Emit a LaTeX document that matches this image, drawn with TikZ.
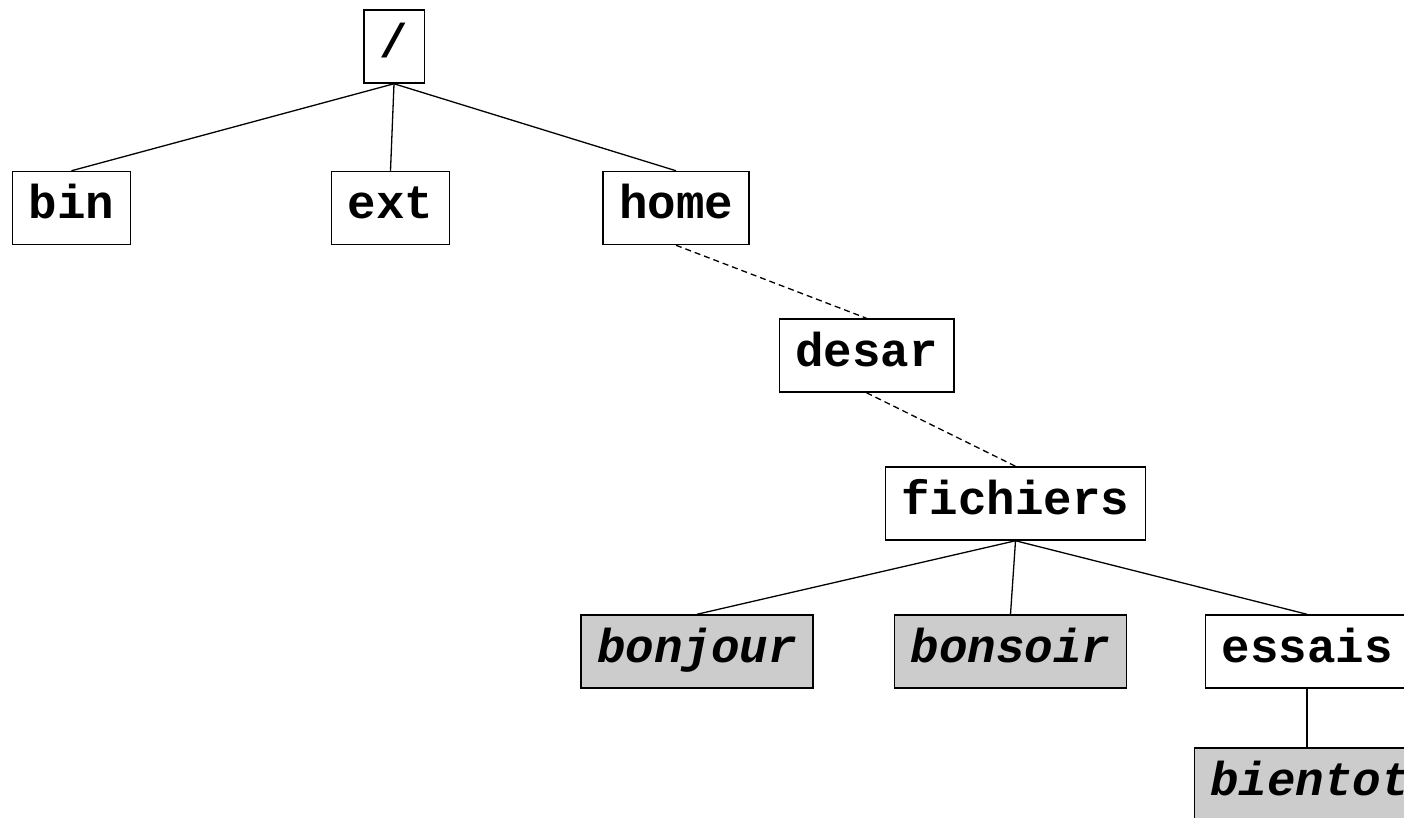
\documentclass[tikz,border=0pt]{standalone}
\usepackage{fontspec}
\setmonofont{Liberation Mono}
\begin{document}
\begin{tikzpicture}[x=1pt,y=-1pt,
  dirbox/.style={draw, line width=1.5pt, fill=white, font=\fontsize{47.5}{50}\selectfont\ttfamily\bfseries,
    inner xsep=16pt, inner ysep=17pt, text height=30pt, text depth=9pt},
  filebox/.style={dirbox, fill=filegray, font=\fontsize{47.5}{50}\selectfont\ttfamily\bfseries\itshape},
  link/.style={line width=1.3pt},
  dlink/.style={line width=1.3pt, dash pattern=on 6pt off 4pt}]
\definecolor{filegray}{RGB}{204,204,204}
\useasboundingbox (0,0) rectangle (1404,817);
\clip (0,0) rectangle (1404,817);
\node[dirbox] (root) at (394,46.5) {/};
\node[dirbox] (bin) at (71.5,208) {bin};
\node[dirbox] (ext) at (390.5,208) {ext};
\node[dirbox] (home) at (676,208) {home};
\node[dirbox] (desar) at (866.5,355.5) {desar};
\node[dirbox] (fich) at (1015.5,503.5) {fichiers};
\node[filebox] (bonjour) at (697,651.5) {bonjour};
\node[filebox] (bonsoir) at (1010.5,651.5) {bonsoir};
\node[dirbox] (essais) at (1307,651.5) {essais};
\node[filebox] (bientot) at (1310,784.5) {bientot};
\draw[link] (root.south) -- (bin.north);
\draw[link] (root.south) -- (ext.north);
\draw[link] (root.south) -- (home.north);
\draw[dlink] (home.south) -- (desar.north);
\draw[dlink] (desar.south) -- (fich.north);
\draw[link] (fich.south) -- (bonjour.north);
\draw[link] (fich.south) -- (bonsoir.north);
\draw[link] (fich.south) -- (essais.north);
\draw[link] (essais.south) -- (essais.south |- bientot.north);
\end{tikzpicture}
\end{document}
